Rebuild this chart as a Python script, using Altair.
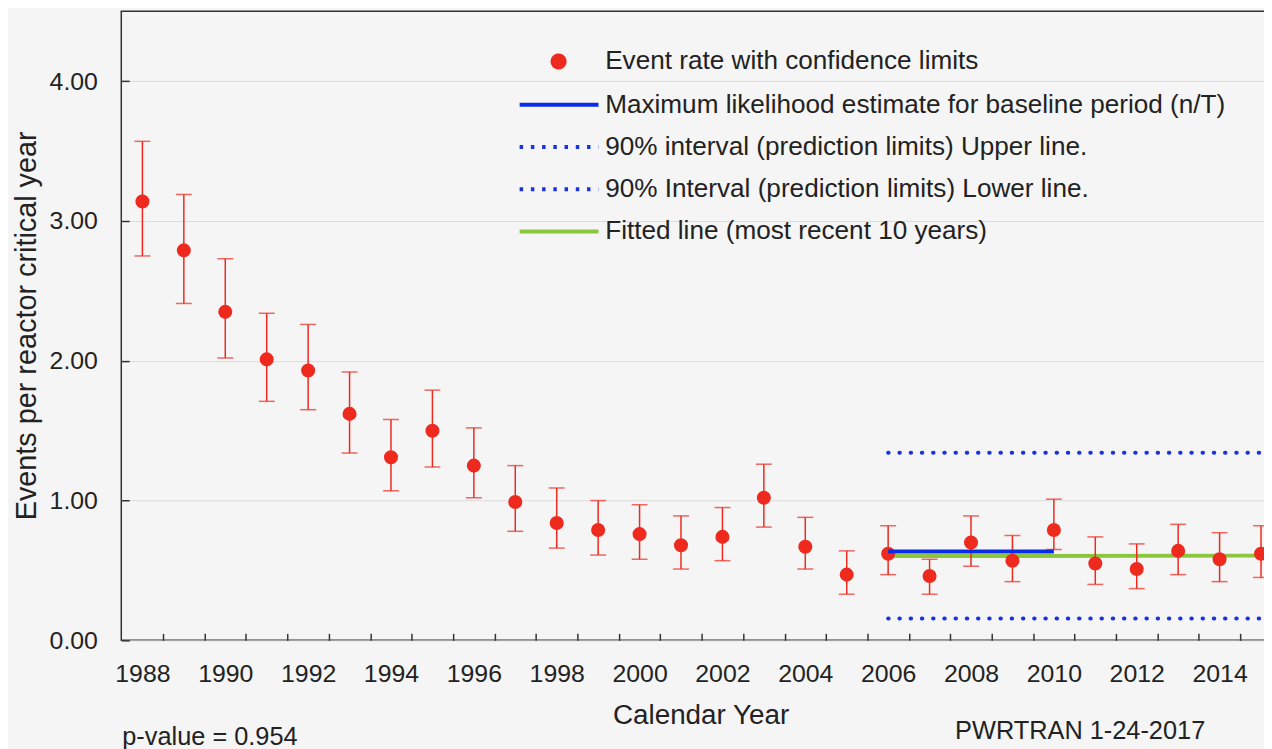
import altair as alt
import pandas as pd

# ---------------- data ----------------
years = list(range(1988, 2016))
rate = [3.14, 2.79, 2.35, 2.01, 1.93, 1.62, 1.31, 1.50, 1.25, 0.99, 0.84, 0.79, 0.76, 0.68,
        0.74, 1.02, 0.67, 0.47, 0.62, 0.46, 0.70, 0.57, 0.79, 0.55, 0.51, 0.64, 0.58, 0.62]
upper = [3.57, 3.19, 2.73, 2.34, 2.26, 1.92, 1.58, 1.79, 1.52, 1.25, 1.09, 1.00, 0.97, 0.89,
         0.95, 1.26, 0.88, 0.64, 0.82, 0.58, 0.89, 0.75, 1.01, 0.74, 0.69, 0.83, 0.77, 0.82]
lower = [2.75, 2.41, 2.02, 1.71, 1.65, 1.34, 1.07, 1.24, 1.02, 0.78, 0.66, 0.61, 0.58, 0.51,
         0.57, 0.81, 0.51, 0.33, 0.47, 0.33, 0.53, 0.42, 0.65, 0.40, 0.37, 0.47, 0.42, 0.45]

baseline_years = [2006, 2010]
baseline_mle = [0.635, 0.635]
fitted_years = [2006, 2015]
fitted_values = [0.603, 0.606]
pred_years = [2006, 2015]
pred_upper = [1.342, 1.342]
pred_lower = [0.156, 0.156]

y_ticks = [0, 1, 2, 3, 4]
legend_labels = [
    "Event rate with confidence limits",
    "Maximum likelihood estimate for baseline period (n/T)",
    "90% interval (prediction limits) Upper line.",
    "90% Interval (prediction limits) Lower line.",
    "Fitted line (most recent 10 years)",
]
pvalue_text = "p-value = 0.954"
stamp_text = "PWRTRAN 1-24-2017"

# ---------------- styles ----------------
RED = "#EE2A1F"
BLUE = "#0A2CE6"
DOTBLUE = "#1A33E0"
GREEN = "#8CC63F"
TXT = "#222222"
FONT = "Liberation Sans"

W, H = 1152, 633
PX_PER_YEAR = W / (2015.12 - 1987.49)
HALF = PX_PER_YEAR / 2

xscale = alt.Scale(domain=[1987.49, 2015.12], nice=False, zero=False)
yscale = alt.Scale(domain=[0, 4.5], nice=False, zero=False)

xaxis = alt.Axis(
    values=years[:-1], tickOffset=HALF, labelOffset=-HALF, format="d",
    labelExpr="datum.value % 2 == 0 ? datum.label : ''",
    offset=-7, tickSize=7, domain=False, grid=False, labelPadding=21,
    labelFontSize=25, labelColor=TXT, labelFont=FONT, tickColor="#333", tickWidth=1.5,
    labelFlush=False, labelOverlap=False,
    title="Calendar Year", titleFontSize=28, titleFontWeight="normal", titleColor=TXT,
    titleFont=FONT, titleX=583, titleY=83, titleBaseline="middle",
)
yaxis = alt.Axis(
    values=y_ticks, format=".2f", offset=-8, tickSize=8, domain=False,
    grid=True, gridColor="#dcdcdc", gridWidth=1, labelPadding=24,
    labelFontSize=25, labelColor=TXT, labelFont=FONT, tickColor="#333", tickWidth=1.5,
    title="Events per reactor critical year", titleFontSize=29, titleFontWeight="normal",
    titleColor=TXT, titleFont=FONT, titleX=-103, titleY=316, titleBaseline="middle",
)

df = pd.DataFrame({"year": years, "rate": rate, "upper": upper, "lower": lower})
X = alt.X("year:Q", scale=xscale, axis=xaxis)

bars = alt.Chart(df).mark_rule(color=RED, strokeWidth=1.5).encode(
    x=X, y=alt.Y("lower:Q", scale=yscale, axis=yaxis), y2="upper:Q")
cap_hi = alt.Chart(df).mark_tick(color=RED, orient="horizontal", size=16, thickness=1.5).encode(
    x=X, y=alt.Y("upper:Q", scale=yscale, axis=yaxis))
cap_lo = alt.Chart(df).mark_tick(color=RED, orient="horizontal", size=16, thickness=1.5).encode(
    x=X, y=alt.Y("lower:Q", scale=yscale, axis=yaxis))
pts = alt.Chart(df).mark_circle(color=RED, size=200, opacity=1).encode(
    x=X, y=alt.Y("rate:Q", scale=yscale, axis=yaxis))


def line_df(xs, ys):
    return pd.DataFrame({"year": xs, "value": ys})


Yv = alt.Y("value:Q", scale=yscale, axis=yaxis)
fit = alt.Chart(line_df(fitted_years, fitted_values)).mark_line(
    color=GREEN, strokeWidth=4).encode(x=X, y=Yv)
mle = alt.Chart(line_df(baseline_years, baseline_mle)).mark_line(
    color=BLUE, strokeWidth=4).encode(x=X, y=Yv)
pu = alt.Chart(line_df(pred_years, pred_upper)).mark_line(
    color=DOTBLUE, strokeWidth=4, strokeDash=[0.5, 10.8], strokeCap="round").encode(x=X, y=Yv)
pl = alt.Chart(line_df(pred_years, pred_lower)).mark_line(
    color=DOTBLUE, strokeWidth=4, strokeDash=[0.5, 10.8], strokeCap="round").encode(x=X, y=Yv)

# ---------------- legend (from an empty layer, via scales) ----------------
CIRC = "M-1.1,0A0.31,0.31,0,1,0,-0.48,0A0.31,0.31,0,1,0,-1.1,0Z"
LINE = "M-2.8,0H1.27"
leg = alt.Legend(title=None, orient="none", legendX=434, legendY=29, labelFontSize=26.3,
                 labelColor=TXT, labelFont=FONT, labelLimit=2000, labelOffset=10,
                 symbolSize=1521, symbolStrokeWidth=4, rowPadding=7.5, padding=0,
                 symbolOpacity=1)
legend_df = pd.DataFrame({"series": legend_labels})
legend_layer = alt.Chart(legend_df).mark_point(opacity=1, strokeWidth=4).encode(
    fill=alt.Fill("series:N", scale=alt.Scale(domain=legend_labels,
                  range=[RED, "transparent", "transparent", "transparent", "transparent"]),
                  legend=leg),
    stroke=alt.Stroke("series:N", scale=alt.Scale(domain=legend_labels,
                      range=[RED, BLUE, DOTBLUE, DOTBLUE, GREEN]), legend=leg),
    shape=alt.Shape("series:N", scale=alt.Scale(domain=legend_labels,
                    range=[CIRC, LINE, LINE, LINE, LINE]), legend=leg),
    strokeDash=alt.StrokeDash("series:N", scale=alt.Scale(domain=legend_labels,
                              range=[[1, 0], [1, 0], [3.5, 7.8], [3.5, 7.8], [1, 0]]),
                              legend=leg),
).transform_filter("false")

# ---------------- annotations ----------------
pval = alt.Chart(pd.DataFrame({"t": [pvalue_text]})).mark_text(
    align="left", baseline="alphabetic", fontSize=25.5, color=TXT, font=FONT).encode(
    text="t:N", x=alt.value(1), y=alt.value(738))
stamp = alt.Chart(pd.DataFrame({"t": [stamp_text]})).mark_text(
    align="center", baseline="alphabetic", fontSize=25.5, color=TXT, font=FONT).encode(
    text="t:N", x=alt.value(965), y=alt.value(732))

chart = alt.layer(
    fit, pu, pl, bars, cap_hi, cap_lo, pts, mle, legend_layer, pval, stamp
).properties(
    width=W, height=H,
    autosize=alt.AutoSizeParams(type="none"),
    padding={"left": 114, "top": 1, "right": -2, "bottom": 107},
    background="#f5f5f5",
).configure(
    font=FONT
).configure_view(
    stroke="#333333", strokeWidth=1.5, strokeOpacity=1
)

chart.save("out.html", embed_options={"renderer": "svg", "actions": False})
